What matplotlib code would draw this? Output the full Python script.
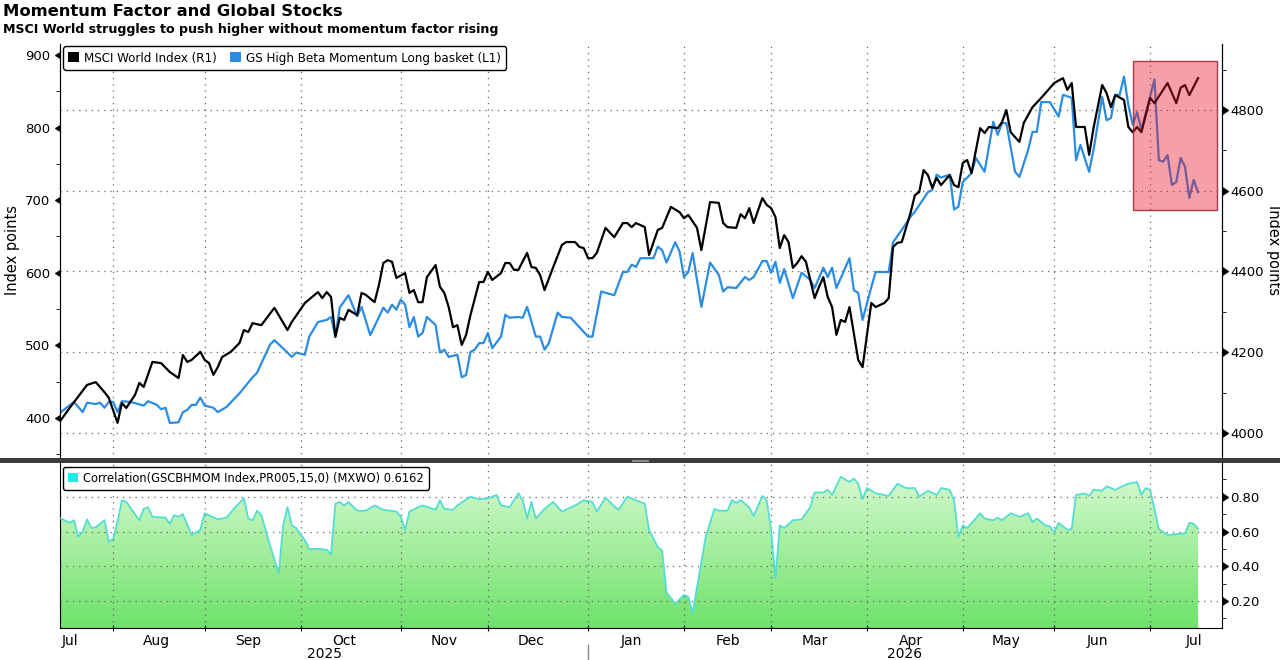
import numpy as np
import pandas as pd
import matplotlib
matplotlib.use("Agg")
import matplotlib.pyplot as plt
import matplotlib.transforms as mtransforms
from matplotlib import markers
from matplotlib.patches import Patch, Rectangle
from matplotlib.lines import Line2D
from matplotlib.colors import LinearSegmentedColormap

# ---- données (jours ouvrés comptés depuis le 16 juil. 2025) ----
start_date = "2025-07-16"

msci_day = [0, 2, 6, 8, 10, 11, 13, 14, 15, 17, 18, 19, 21, 23, 25, 27, 28, 29, 30, 32,
            33, 34, 35, 36, 37, 39, 41, 42, 43, 44, 46, 49, 52, 53, 56, 59, 60, 61, 62, 63,
            64, 65, 66, 68, 69, 70, 72, 73, 74, 75, 76, 77, 79, 80, 81, 82, 83, 84, 86, 87,
            88, 89, 90, 91, 92, 93, 94, 96, 97, 98, 99, 101, 102, 103, 104, 105, 107, 108, 109, 110,
            111, 113, 115, 116, 118, 119, 120, 121, 122, 123, 125, 127, 129, 130, 131, 132, 134, 135, 137, 138,
            140, 142, 143, 144, 146, 147, 149, 151, 152, 153, 155, 156, 157, 158, 159, 161, 162, 163, 164, 165,
            166, 167, 168, 169, 170, 171, 172, 173, 174, 175, 176, 177, 178, 179, 180, 181, 183, 184, 186, 187,
            189, 190, 191, 192, 193, 195, 196, 197, 198, 199, 200, 201, 202, 204, 205, 206, 207, 208, 209, 211,
            212, 213, 215, 216, 217, 218, 220, 221, 223, 225, 228, 230, 231, 232, 233, 235, 236, 237, 239, 240,
            241, 242, 244, 245, 246, 247, 248, 250, 251, 254, 256, 257, 258, 259, 261]
msci_val = [4032, 4062, 4119, 4126, 4101, 4087, 4025, 4074, 4062, 4094, 4124, 4114, 4176, 4173, 4151, 4136, 4193, 4176, 4181, 4201,
            4181, 4173, 4144, 4163, 4188, 4201, 4223, 4255, 4250, 4272, 4267, 4310, 4255, 4275, 4322, 4349, 4334, 4349, 4337, 4238,
            4285, 4280, 4305, 4292, 4347, 4342, 4324, 4367, 4421, 4428, 4424, 4384, 4396, 4347, 4354, 4324, 4324, 4386, 4416, 4362,
            4347, 4312, 4262, 4267, 4218, 4243, 4292, 4374, 4374, 4399, 4379, 4396, 4421, 4421, 4404, 4404, 4446, 4411, 4409, 4391,
            4354, 4411, 4466, 4473, 4473, 4461, 4458, 4433, 4433, 4446, 4508, 4485, 4520, 4520, 4510, 4520, 4510, 4441, 4503, 4508,
            4560, 4547, 4532, 4540, 4508, 4453, 4572, 4570, 4520, 4510, 4508, 4542, 4532, 4557, 4520, 4582, 4565, 4557, 4535, 4458,
            4490, 4473, 4409, 4421, 4438, 4424, 4379, 4334, 4362, 4386, 4337, 4312, 4243, 4280, 4275, 4312, 4181, 4163, 4322, 4312,
            4322, 4334, 4461, 4471, 4473, 4545, 4589, 4597, 4651, 4639, 4607, 4632, 4614, 4639, 4614, 4609, 4669, 4676, 4644, 4755,
            4743, 4758, 4755, 4770, 4800, 4745, 4721, 4768, 4807, 4830, 4867, 4879, 4850, 4867, 4758, 4758, 4689, 4755, 4862, 4842,
            4807, 4837, 4825, 4758, 4745, 4758, 4745, 4830, 4817, 4867, 4817, 4855, 4862, 4837, 4879]

gs_day = [0, 3, 5, 6, 8, 9, 10, 11, 12, 13, 14, 16, 19, 20, 22, 23, 24, 25, 27, 28,
          29, 30, 31, 32, 33, 35, 36, 38, 41, 44, 45, 48, 49, 52, 53, 54, 56, 57, 59, 61,
          62, 63, 64, 66, 68, 69, 71, 73, 74, 75, 76, 77, 78, 79, 80, 81, 82, 83, 84, 86,
          87, 88, 89, 91, 92, 93, 94, 95, 96, 97, 98, 99, 101, 102, 103, 105, 106, 107, 109, 110,
          111, 112, 114, 115, 117, 121, 122, 124, 127, 129, 130, 131, 132, 133, 136, 137, 138, 139, 141, 142,
          143, 144, 145, 147, 149, 151, 152, 153, 155, 157, 158, 159, 161, 162, 163, 164, 165, 166, 168, 170,
          172, 173, 175, 176, 177, 178, 181, 182, 183, 184, 186, 187, 190, 191, 193, 195, 196, 199, 200, 201,
          202, 204, 205, 206, 207, 209, 210, 212, 214, 215, 216, 217, 219, 220, 222, 223, 224, 225, 227, 229,
          230, 232, 233, 234, 236, 237, 239, 240, 241, 242, 243, 244, 245, 246, 247, 248, 251, 252, 253, 254,
          255, 256, 257, 258, 259, 260, 261]
gs_val = [408, 422, 408, 421, 419, 421, 414, 422, 422, 408, 423, 422, 417, 423, 418, 412, 414, 393, 394, 408,
          411, 418, 418, 428, 417, 414, 408, 415, 434, 456, 462, 501, 507, 490, 484, 490, 487, 512, 532, 535,
          539, 512, 552, 569, 540, 553, 514, 539, 552, 545, 556, 549, 563, 556, 525, 539, 512, 517, 539, 528,
          490, 494, 484, 487, 456, 459, 491, 494, 503, 503, 517, 496, 512, 542, 538, 539, 538, 553, 512, 512,
          494, 503, 545, 539, 538, 512, 512, 574, 569, 601, 601, 611, 608, 620, 620, 636, 631, 614, 642, 629,
          594, 601, 627, 553, 614, 597, 574, 580, 579, 594, 590, 594, 616, 616, 600, 615, 586, 605, 565, 600,
          590, 579, 607, 594, 607, 579, 620, 576, 572, 535, 580, 601, 601, 642, 659, 677, 684, 711, 714, 735,
          731, 735, 687, 691, 725, 737, 758, 739, 808, 790, 806, 806, 739, 732, 769, 794, 794, 835, 835, 815,
          845, 841, 755, 776, 739, 769, 842, 810, 813, 845, 845, 870, 831, 804, 821, 797, 866, 755, 753, 762,
          721, 725, 758, 746, 703, 728, 711]

corr_day = [0, 2, 3, 4, 5, 6, 7, 8, 10, 11, 12, 13, 14, 15, 18, 19, 20, 21, 24, 25,
            26, 27, 28, 30, 32, 33, 36, 38, 40, 42, 43, 44, 45, 46, 48, 50, 51, 52, 53, 54,
            56, 57, 59, 61, 62, 63, 64, 65, 66, 68, 70, 72, 74, 77, 78, 79, 80, 82, 83, 86,
            87, 88, 90, 91, 94, 96, 98, 100, 101, 103, 105, 106, 107, 108, 109, 111, 113, 115, 118, 120,
            122, 123, 125, 127, 128, 130, 133, 134, 135, 137, 138, 139, 141, 143, 144, 145, 146, 148, 150, 151,
            153, 154, 155, 156, 158, 159, 161, 162, 163, 164, 165, 166, 168, 170, 172, 173, 175, 176, 177, 179,
            181, 182, 183, 184, 185, 187, 190, 192, 194, 196, 197, 199, 201, 202, 204, 205, 206, 207, 208, 211,
            212, 214, 215, 216, 218, 220, 222, 223, 224, 226, 227, 228, 229, 231, 232, 233, 235, 236, 237, 239,
            240, 242, 244, 245, 247, 248, 249, 250, 252, 254, 258, 259, 260, 261]
corr_val = [0.675, 0.65, 0.665, 0.57, 0.60, 0.67, 0.62, 0.625, 0.665, 0.54, 0.56, 0.655, 0.78, 0.77, 0.665, 0.73, 0.74, 0.685, 0.68, 0.645,
            0.695, 0.685, 0.70, 0.58, 0.61, 0.705, 0.67, 0.68, 0.74, 0.79, 0.675, 0.665, 0.72, 0.695, 0.52, 0.36, 0.635, 0.74, 0.635, 0.62,
            0.55, 0.50, 0.50, 0.495, 0.47, 0.76, 0.77, 0.75, 0.77, 0.72, 0.72, 0.75, 0.725, 0.715, 0.685, 0.61, 0.715, 0.74, 0.75, 0.725,
            0.78, 0.73, 0.725, 0.75, 0.80, 0.785, 0.79, 0.81, 0.75, 0.74, 0.82, 0.78, 0.675, 0.77, 0.675, 0.73, 0.77, 0.715, 0.75, 0.78,
            0.77, 0.715, 0.795, 0.745, 0.725, 0.80, 0.77, 0.76, 0.61, 0.51, 0.49, 0.25, 0.185, 0.235, 0.225, 0.13, 0.28, 0.57, 0.73, 0.72,
            0.72, 0.78, 0.765, 0.78, 0.74, 0.69, 0.805, 0.78, 0.61, 0.33, 0.635, 0.62, 0.665, 0.67, 0.74, 0.825, 0.825, 0.84, 0.81, 0.915,
            0.885, 0.905, 0.875, 0.785, 0.85, 0.82, 0.805, 0.875, 0.85, 0.85, 0.80, 0.835, 0.81, 0.85, 0.84, 0.78, 0.57, 0.635, 0.62, 0.705,
            0.675, 0.665, 0.68, 0.665, 0.705, 0.685, 0.705, 0.655, 0.675, 0.635, 0.63, 0.595, 0.65, 0.61, 0.615, 0.81, 0.82, 0.805, 0.84, 0.835,
            0.86, 0.84, 0.865, 0.875, 0.885, 0.81, 0.85, 0.84, 0.615, 0.58, 0.59, 0.65, 0.645, 0.6162]

# zone surlignée en rouge (jours, niveaux MSCI)
box_days = (246.1, 265.4)
box_levels = (4552, 4921)

month_starts = pd.date_range("2025-08-01", "2026-07-01", freq="MS")
month_mids = pd.date_range("2025-07-01", "2026-07-01", freq="MS") + pd.Timedelta(days=14)

black = "#000000"
blue = "#2B8CE3"
cyan = "#55DDD5"
grid_kw = dict(color="#666666", linestyle=(0, (1, 4)), linewidth=0.9)

days = pd.bdate_range(start_date, periods=300)
x_end = 266.5
tick_pos = [days.searchsorted(d) for d in month_starts]
mid_pos = [max(days.searchsorted(d), 2) for d in month_mids]
mid_lab = [d.strftime("%b") for d in month_mids]
jan_pos = days.searchsorted(pd.Timestamp("2026-01-01"))

fig = plt.figure(figsize=(12.8, 6.6), dpi=100)
ax_l = fig.add_axes([0.0469, 0.303, 0.9078, 0.6303])
ax_r = ax_l.twinx()
ax_c = fig.add_axes([0.0469, 0.0485, 0.9078, 0.2515])

# ---- panneau du haut ----
ax_l.plot(gs_day, gs_val, color=blue, lw=1.6, zorder=3)
ax_r.plot(msci_day, msci_val, color=black, lw=1.6, zorder=3)
ax_r.add_patch(Rectangle((box_days[0], box_levels[0]), box_days[1] - box_days[0],
                         box_levels[1] - box_levels[0], facecolor=(0.9, 0.07, 0.16, 0.4),
                         edgecolor=(0.65, 0.15, 0.25, 0.9), lw=1.0, zorder=6))

ax_l.set_xlim(-0.2, x_end)
ax_l.set_ylim(342, 915)
ax_r.set_ylim(3933, 4963.5)
ax_l.set_yticks(range(400, 901, 100))
ax_l.set_yticks(range(350, 900, 100), minor=True)
ax_r.set_yticks(range(4000, 4801, 200))
ax_r.set_yticks(range(4100, 4901, 200), minor=True)
ax_l.set_xticks(tick_pos)
ax_l.tick_params(axis="x", bottom=False, labelbottom=False)
ax_l.xaxis.grid(True, **grid_kw)
ax_r.yaxis.grid(True, **grid_kw)
ax_r.set_axisbelow(True)

ax_l.tick_params(axis="y", which="major", length=5, labelsize=9.5, pad=2)
ax_l.tick_params(axis="y", which="minor", length=3)
ax_r.tick_params(axis="y", which="major", length=6, labelsize=9.5, pad=0)
ax_r.tick_params(axis="y", which="minor", length=3)
for t in ax_l.yaxis.get_major_ticks():
    t.tick1line.set_marker(markers.CARETLEFTBASE)
for t in ax_r.yaxis.get_major_ticks():
    t.tick2line.set_marker(markers.CARETRIGHTBASE)

for a in (ax_l, ax_r):
    a.spines["top"].set_visible(False)
    a.spines["bottom"].set_visible(False)

ax_l.set_ylabel("Index points", fontsize=10.5, va="center")
ax_l.yaxis.set_label_coords(-0.041, 0.505)
ax_r.set_ylabel("Index points", fontsize=10.5, rotation=270, va="center")
ax_r.yaxis.set_label_coords(1.0445, 0.505)

leg = ax_r.legend([Patch(facecolor=black), Patch(facecolor=blue)],
                  ["MSCI World Index (R1)", "GS High Beta Momentum Long basket (L1)"],
                  loc="upper left", bbox_to_anchor=(-0.003, 1.01), ncol=2,
                  handlelength=0.8, handleheight=0.8, handletextpad=0.4,
                  columnspacing=1.0, borderpad=0.4, fancybox=True,
                  edgecolor="black", framealpha=1, prop=dict(size=9.5, stretch="condensed"))
leg.get_frame().set_linewidth(1.0)
leg.set_zorder(10)

# ---- panneau du bas : corrélation ----
c_lo, c_hi = 0.045, 1.0
cmap = LinearSegmentedColormap.from_list("verts", ["#6EE26A", "#DDFBD6"])
grad = np.linspace(1, 0, 256).reshape(-1, 1)
im = ax_c.imshow(grad, cmap=cmap, aspect="auto", extent=[0, corr_day[-1], c_lo, c_hi],
                 origin="upper", zorder=1, interpolation="bilinear")
area = ax_c.fill_between(corr_day, corr_val, c_lo, facecolor="none", edgecolor="none")
im.set_clip_path(area.get_paths()[0], transform=ax_c.transData)
ax_c.plot(corr_day, corr_val, color=cyan, lw=1.3, zorder=3)

ax_c.set_xlim(-0.2, x_end)
ax_c.set_ylim(c_lo, c_hi)
ax_c.yaxis.tick_right()
ax_c.set_yticks([0.2, 0.4, 0.6, 0.8])
ax_c.set_yticklabels([f"{v:.2f}" for v in [0.2, 0.4, 0.6, 0.8]])
ax_c.set_yticks([0.1, 0.3, 0.5, 0.7, 0.9], minor=True)
ax_c.tick_params(axis="y", which="major", length=6, labelsize=9.5, pad=0)
ax_c.tick_params(axis="y", which="minor", length=3)
for t in ax_c.yaxis.get_major_ticks():
    t.tick2line.set_marker(markers.CARETRIGHTBASE)
ax_c.yaxis.grid(True, **grid_kw)
ax_c.set_xticks(tick_pos)
ax_c.set_xticklabels([])
ax_c.set_xticks(mid_pos, minor=True)
ax_c.set_xticklabels(mid_lab, minor=True)
ax_c.tick_params(axis="x", which="major", length=5, direction="inout")
ax_c.tick_params(axis="x", which="minor", length=0, labelsize=10, pad=4)
ax_c.xaxis.grid(True, which="major", **grid_kw)
ax_c.set_axisbelow(False)
ax_c.spines["top"].set_visible(False)

trans = mtransforms.blended_transform_factory(ax_c.transData, ax_c.transAxes)
ax_c.text((0 + jan_pos) / 2, -0.155, "2025", transform=trans, ha="center", va="center", fontsize=10)
ax_c.text((jan_pos + x_end) / 2, -0.155, "2026", transform=trans, ha="center", va="center", fontsize=10)
ax_c.add_line(Line2D([jan_pos, jan_pos], [-0.10, -0.20], transform=trans, color="#888888",
                     lw=1, clip_on=False))

leg2 = ax_c.legend([Patch(facecolor="#22E8E8")],
                   [f"Correlation(GSCBHMOM Index,PR005,15,0) (MXWO) {corr_val[-1]:.4f}"],
                   loc="upper left", bbox_to_anchor=(-0.003, 1.01), handlelength=0.8,
                   handleheight=0.8, handletextpad=0.4, borderpad=0.4, fancybox=True,
                   edgecolor="black", framealpha=1, prop=dict(size=9.2, stretch="condensed"))
leg2.get_frame().set_linewidth(1.0)
leg2.set_zorder(10)

# barre de séparation entre les panneaux
fig.add_artist(Rectangle((0, 0.2985), 1, 0.0075, transform=fig.transFigure,
                         facecolor="#3c3c3c", edgecolor="none", zorder=20))
for yy in (0.3035, 0.3008):
    fig.add_artist(Line2D([0.494, 0.506], [yy, yy], transform=fig.transFigure,
                          color="#a0a0a0", lw=0.6, zorder=21))

# ---- titres ----
fig.text(0.002, 0.982, "Momentum Factor and Global Stocks", fontsize=11.8,
         fontweight="bold", va="center", ha="left")
fig.text(0.002, 0.955, "MSCI World struggles to push higher without momentum factor rising",
         fontsize=9.1, fontweight="bold", va="center", ha="left")

fig.savefig("out.png", dpi=100)
